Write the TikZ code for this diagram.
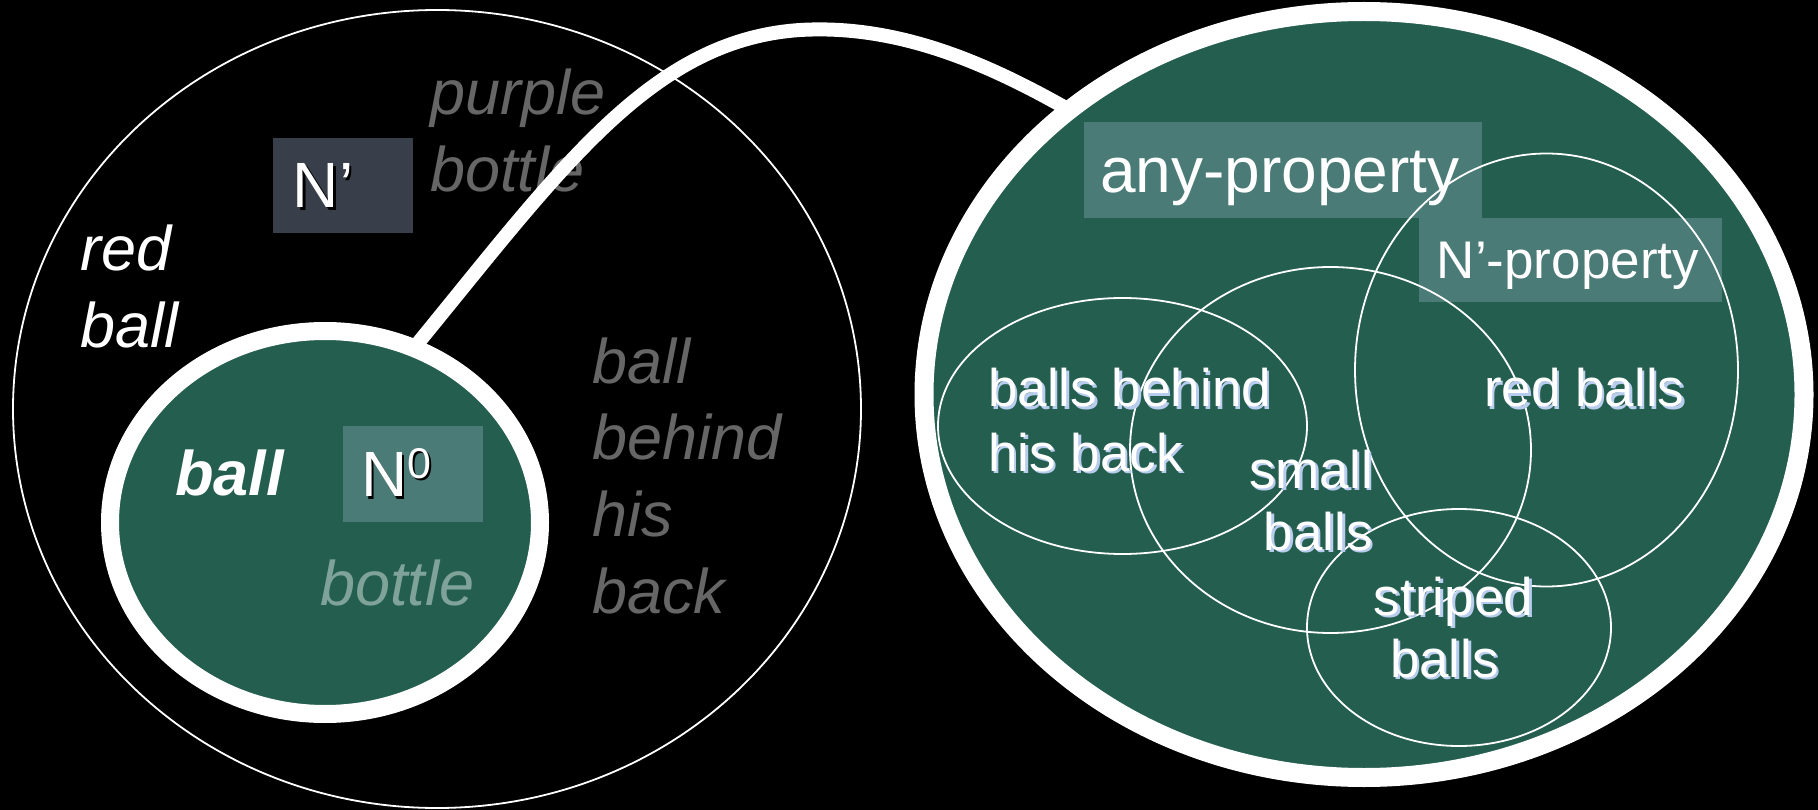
\documentclass[tikz,border=0pt]{standalone}
\usepackage{fontspec}
\setmainfont{Liberation Sans}
\usetikzlibrary{shapes.geometric}
\pgfdeclarelayer{bottom}
\pgfdeclarelayer{back}
\pgfsetlayers{bottom,back,main}
\definecolor{vgreen}{HTML}{245E4E}
\definecolor{vbox}{HTML}{4B7B76}
\definecolor{vdark}{HTML}{383F4A}
\definecolor{vgrey}{HTML}{666666}
\definecolor{vpale}{HTML}{7FA399}
\definecolor{vshadow}{HTML}{B8CCEE}
\newcommand{\shtext}[2]{\makebox[0pt][l]{\hspace*{2.5pt}\raisebox{-2.5pt}{\textcolor{#1}{#2}}}#2}
\tikzset{
  lefttxt/.style={font=\fontsize{63}{63}\selectfont\itshape, inner sep=0pt, anchor=base west},
  greytxt/.style={lefttxt, text=vgrey},
  whitetxt/.style={lefttxt, text=white},
  righttxt/.style={font=\fontsize{53}{53}\selectfont, inner sep=0pt, text=white},
  thinell/.style={draw=white, line width=1.8pt},
  tagbox/.style={fill=#1, anchor=base west, inner ysep=0pt, align=left, text=white},
  bigcirc/.style={ellipse, draw=white, fill=vgreen, inner sep=0pt, outer sep=0pt},
  link/.style={draw=white, line width=14pt}
}
\begin{document}
\begin{tikzpicture}[x=1pt,y=-1pt]
\begin{pgfonlayer}{bottom}
  \fill[black] (0,0) rectangle (1818,810);
  \useasboundingbox (0,0) rectangle (1818,810);
  \draw[thinell] (437,409) ellipse [x radius=424, y radius=399];
  \node[greytxt] (purple) at (430,115) {purple};
  \node[greytxt] (pbottle) at (430,192) {bottle};
  \node[whitetxt] (red) at (80,271) {red};
  \node[whitetxt] (redball) at (80,347) {ball};
  \node[greytxt] (bball) at (592,383) {ball};
  \node[greytxt] (behind) at (592,459) {behind};
  \node[greytxt] (his) at (592,536) {his};
  \node[greytxt] (back) at (592,613) {back};
\end{pgfonlayer}

% N' box
\node[tagbox=vdark, inner xsep=20pt, text width=100pt, text height=69.7pt, text depth=25.3pt,
      font=\fontsize{64}{64}\selectfont] (nprime) at (272.7,208) {\shtext{black}{N’}};

% N0 circle
\node[bigcirc, line width=18pt, minimum width=430pt, minimum height=383pt] (ncirc) at (325,522.5) {};
\node[tagbox=vbox, inner xsep=18.3pt, text width=103.4pt, text height=70.7pt, text depth=25pt,
      font=\fontsize{64}{64}\selectfont] (nzero) at (342.7,496.7)
      {\shtext{black}{N\raisebox{18.7pt}{\fontsize{43}{43}\selectfont 0}}};
\node[lefttxt, text=white, font=\fontsize{63}{63}\selectfont\bfseries\itshape] (ball) at (175,495) {ball};
\node[lefttxt, text=vpale] (gbottle) at (320,605) {bottle};

% property circle
\node[bigcirc, line width=19pt, minimum width=880pt, minimum height=766pt] (pcirc) at (1364,394.5) {};
\node[tagbox=vbox, inner xsep=16.5pt, text width=365pt, text height=70.7pt, text depth=25pt,
      font=\fontsize{64}{64}\selectfont] (anyprop) at (1083.5,192.7) {\mbox{any-property}};
\node[tagbox=vbox, inner xsep=17.6pt, text width=267.8pt, text height=60.6pt, text depth=23.4pt,
      font=\fontsize{53}{53}\selectfont] (nprop) at (1419,278.3) {\mbox{N’-property}};

\draw[thinell] (1122.5,426) ellipse [x radius=184.5, y radius=128];
\draw[thinell] (1330.5,450) ellipse [x radius=200.5, y radius=183];
\draw[thinell] (1546.5,370) ellipse [x radius=191.5, y radius=216.5];
\draw[thinell] (1459,627.5) ellipse [x radius=152, y radius=118.5];

\node[righttxt, anchor=base west] (bbh1) at (988,406.5) {\shtext{vshadow}{balls behind}};
\node[righttxt, anchor=base west] (bbh2) at (988,471) {\shtext{vshadow}{his back}};
\node[righttxt, anchor=base west] (redb) at (1484,406.5) {\shtext{vshadow}{red balls}};
\node[righttxt, anchor=base east] (small1) at (1373,488) {\shtext{vshadow}{small}};
\node[righttxt, anchor=base east] (small2) at (1373,550) {\shtext{vshadow}{balls}};
\node[righttxt, anchor=base] (strip1) at (1453.5,615) {\shtext{vshadow}{striped}};
\node[righttxt, anchor=base] (strip2) at (1444.5,677) {\shtext{vshadow}{balls}};

\begin{pgfonlayer}{back}
  \draw[link] (ncirc.63) .. controls (560,170) and (650,40) .. (800,30)
              .. controls (900,24) and (990,65) .. (pcirc.136);
\end{pgfonlayer}
\end{tikzpicture}
\end{document}
